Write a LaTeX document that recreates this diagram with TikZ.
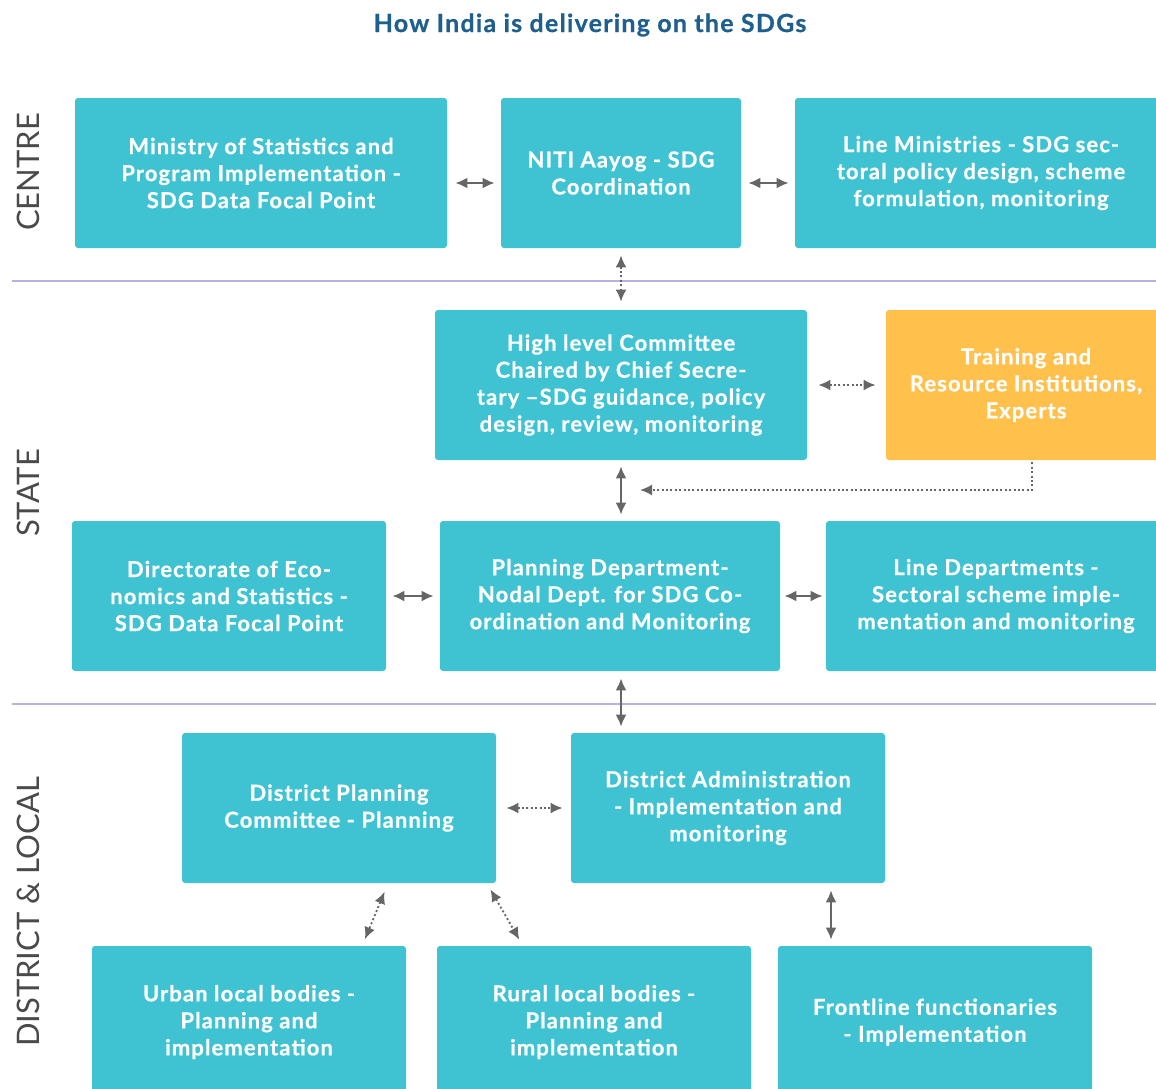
\documentclass[tikz,border=0pt]{standalone}
\usepackage{fontspec}
\setmainfont{Lato}
\newfontfamily\boxfont{Lato}[LetterSpace = 5, BoldFeatures = {FakeBold = 0.6}]
\usetikzlibrary{arrows.meta}

\definecolor{boxteal}{HTML}{3FC3D3}
\definecolor{boxorange}{HTML}{FFC04C}
\definecolor{titleblue}{HTML}{1E5F8E}
\definecolor{arrowgray}{HTML}{666666}
\definecolor{seplilac}{HTML}{B7B1E2}
\definecolor{sidegray}{HTML}{4A4A4A}

\begin{document}
\begin{tikzpicture}[%
        x = 0.5pt,
        y = -0.5pt,
        > = {Latex[length=6pt, width=5.5pt]},
        tealbox/.style = {fill = boxteal, rounded corners = 1.5pt,
            text = white, align = center, minimum height = 75pt,
            font = \boxfont\bfseries\fontsize{11}{13.5}\selectfont},
        orangebox/.style = {tealbox, fill = boxorange},
        solidlink/.style = {<->, draw = arrowgray, line width = 1pt},
        dottedlink/.style = {<->, draw = arrowgray, line width = 0.9pt,
            dash pattern = on 1pt off 1.2pt},
        sideline/.style = {draw = seplilac, line width = 0.8pt},
        sidelabel/.style = {rotate = 90, text = sidegray,
            font = \fontsize{15.5}{17}\selectfont}
    ]

        % Page size.
        \useasboundingbox (0, 0) rectangle (1156, 1088);
        \clip (0, 0) rectangle (1156, 1088);

        % Title.
        \node (title) [text = titleblue, font = \boxfont\bfseries\fontsize{12.5}{14}\selectfont]
            at (590, 25) {How India is delivering on the SDGs};

        % Tier separators and tier labels.
        \draw[sideline] (12, 281) to (1156, 281);
        \draw[sideline] (12, 704) to (1156, 704);
        \node (centre) [sidelabel] at (28, 172) {CENTRE};
        \node (state) [sidelabel] at (28, 493) {STATE};
        \node (district) [sidelabel] at (28, 912) {DISTRICT \& LOCAL};

        % Centre boxes.
        \node (mospi) [tealbox, minimum width = 186pt] at (261, 173)
            {Ministry of Statistics and\\Program Implementation -\\SDG Data Focal Point};
        \node (niti) [tealbox, minimum width = 120pt] at (621, 173)
            {NITI Aayog - SDG\\Coordination};
        \node (linemin) [tealbox, minimum width = 186pt] at (981, 173)
            {Line Ministries - SDG sec-\\toral policy design, scheme\\formulation, monitoring};

        % State boxes.
        \node (hlc) [tealbox, minimum width = 186pt] at (621, 385)
            {High level Committee\\Chaired by Chief Secre-\\tary –SDG guidance, policy\\design, review, monitoring};
        \node (training) [orangebox, minimum width = 140pt] at (1026, 385)
            {Training and\\Resource Institutions,\\Experts};
        \node (des) [tealbox, minimum width = 157pt] at (229, 596)
            {Directorate of Eco-\\nomics and Statistics -\\SDG Data Focal Point};
        \node (plandept) [tealbox, minimum width = 170pt] at (610, 596)
            {Planning Department-\\Nodal Dept. for SDG Co-\\ordination and Monitoring};
        \node (linedept) [tealbox, minimum width = 170pt] at (996, 596)
            {Line Departments -\\Sectoral scheme imple-\\mentation and monitoring};

        % District and local boxes.
        \node (dpc) [tealbox, minimum width = 157pt] at (339, 808)
            {District Planning\\Committee - Planning};
        \node (distadmin) [tealbox, minimum width = 157pt] at (728, 808)
            {District Administration\\- Implementation and\\monitoring};
        \node (urban) [tealbox, minimum width = 157pt, minimum height = 76pt] at (249, 1022)
            {Urban local bodies -\\Planning and\\implementation};
        \node (rural) [tealbox, minimum width = 157pt, minimum height = 76pt] at (594, 1022)
            {Rural local bodies -\\Planning and\\implementation};
        \node (frontline) [tealbox, minimum width = 157pt, minimum height = 76pt] at (935, 1022)
            {Frontline functionaries\\- Implementation};

        % Links inside the centre.
        \draw[solidlink, shorten < = 4pt, shorten > = 3pt]
            ([yshift = -5pt] mospi.east) to ([yshift = -5pt] niti.west);
        \draw[solidlink, shorten < = 3.5pt, shorten > = 3pt]
            ([yshift = -5pt] niti.east) to ([yshift = -5pt] linemin.west);

        % Centre to state.
        \draw[dottedlink, shorten < = 3.5pt, shorten > = 4pt] (niti.south) to (hlc.north);

        % Links inside the state.
        \draw[dottedlink, shorten < = 5.5pt, shorten > = 5pt] (hlc.east) to (training.west);
        \coordinate (trainingtip) at (640, 490);
        \draw[->, draw = arrowgray, line width = 0.9pt, dash pattern = on 1pt off 1.2pt,
              shorten < = 1pt] ([xshift = 3pt] training.south) |- (trainingtip);
        \draw[solidlink, shorten < = 3pt, shorten > = 3pt]
            (hlc.south) to (hlc.south |- plandept.north);
        \draw[solidlink, shorten < = 3pt, shorten > = 3pt] (des.east) to (plandept.west);
        \draw[solidlink, shorten < = 2pt, shorten > = 1.5pt] (plandept.east) to (linedept.west);

        % State to district.
        \draw[solidlink, shorten < = 3.5pt, shorten > = 3pt]
            (hlc.south |- plandept.south) to (hlc.south |- distadmin.north);

        % Links inside the district.
        \draw[dottedlink, shorten < = 5pt, shorten > = 4pt] (dpc.east) to (distadmin.west);
        \draw[dottedlink, shorten < = 4.5pt, shorten > = 3.5pt] (dpc.-57) to (urban.34);
        \draw[dottedlink, shorten < = 3.5pt, shorten > = 3.5pt] (dpc.-27) to (rural.133);
        \draw[solidlink, shorten < = 3.5pt, shorten > = 3pt]
            ([xshift = 51.5pt] distadmin.south) to ([xshift = 51.5pt] distadmin.south |- frontline.north);
    \end{tikzpicture}
\end{document}
